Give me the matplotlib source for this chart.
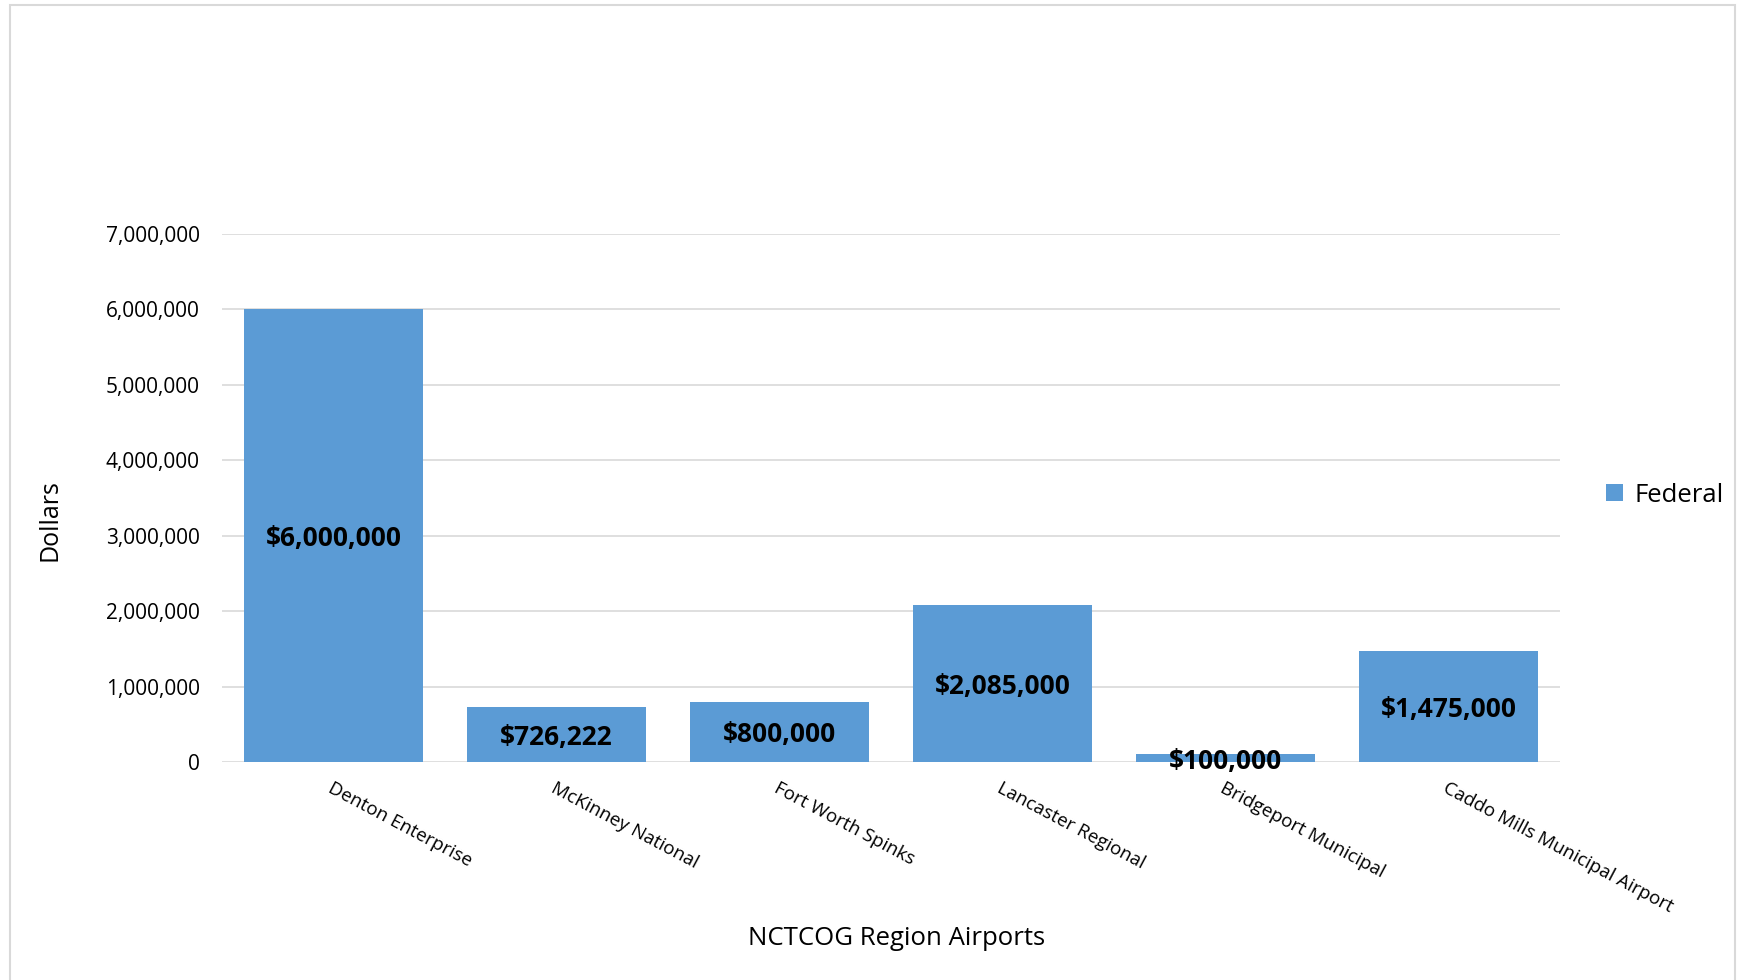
import matplotlib.pyplot as plt
from matplotlib.patches import Rectangle
from matplotlib.ticker import FuncFormatter

plt.rcParams['font.family'] = ['Open Sans', 'DejaVu Sans']

airports = ["Denton Enterprise", "McKinney National", "Fort Worth Spinks",
            "Lancaster Regional", "Bridgeport Municipal", "Caddo Mills Municipal Airport"]
federal = [6000000, 726222, 800000, 2085000, 100000, 1475000]
yticks = [0, 1000000, 2000000, 3000000, 4000000, 5000000, 6000000, 7000000]

W, H = 1741, 980
fig = plt.figure(figsize=(W / 100, H / 100), dpi=100)
ax = fig.add_axes([222 / W, 1 - 762 / H, (1560 - 222) / W, (762 - 234) / H])

# outer chart border
fig.patches.append(Rectangle((10 / W, -0.01), (1735 - 10) / W, 1.01 - 5 / H,
                             transform=fig.transFigure, fill=False,
                             edgecolor="#d9d9d9", linewidth=1.5))

x = list(range(len(airports)))
bars = ax.bar(x, federal, width=0.8, color="#5b9bd5", label="Federal", zorder=3)

for xi, v in zip(x, federal):
    ax.text(xi, v / 2, f"${v:,.0f}", ha="center", va="center_baseline",
            fontsize=19, fontweight="bold", color="black", zorder=4)

ax.set_xlim(-0.5, len(airports) - 0.5)
ax.set_ylim(0, 7000000)
ax.set_yticks(yticks)
ax.yaxis.set_major_formatter(FuncFormatter(lambda v, p: f"{v:,.0f}"))
ax.grid(axis="y", color="#d9d9d9", linewidth=1.2, zorder=0)
for s in ax.spines.values():
    s.set_visible(False)
ax.tick_params(axis="both", length=0)
ax.tick_params(axis="y", pad=16, labelsize=15)

ax.set_xticks(x)
ax.set_xticklabels(airports, rotation=-28, ha="left", va="top",
                   rotation_mode="anchor", fontsize=13.5)
ax.tick_params(axis="x", pad=12)

fig.text(50 / W, 1 - 520 / H, "Dollars", rotation=90, ha="center", va="center", fontsize=18)
fig.text(897 / W, 1 - 938 / H, "NCTCOG Region Airports", ha="center", va="center", fontsize=18.5)

fig.legend(handles=[bars], labels=["Federal"], loc="center left",
           bbox_to_anchor=(1593 / W, 1 - 495 / H), frameon=False, fontsize=18.5,
           handlelength=0.65, handleheight=0.65, handletextpad=0.45, borderpad=0)

fig.savefig("out.png", dpi=100)
